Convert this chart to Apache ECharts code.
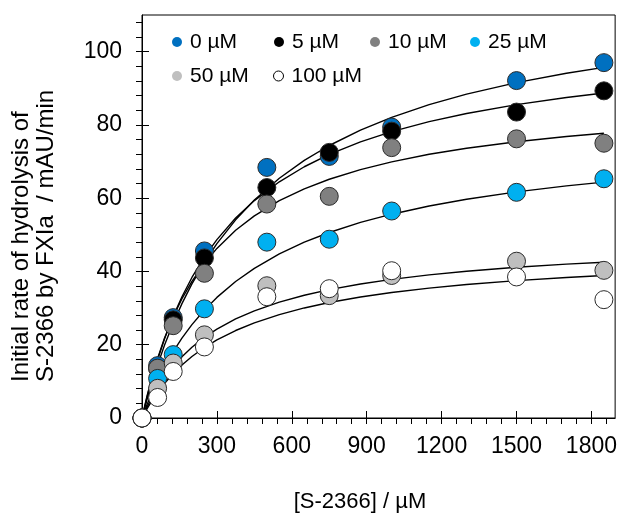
<!DOCTYPE html>
<html>
<head>
<meta charset="utf-8">
<script src="https://cdn.jsdelivr.net/npm/echarts@6/dist/echarts.min.js"></script>
<style>
  html, body { margin: 0; padding: 0; background: #fff; }
  #chart { width: 620px; height: 515px; }
</style>
</head>
<body>
<div id="chart"></div>
<script>
// measured points: [S-2366] in µM
const conc = [0, 62.5, 125, 250, 500, 750, 1000, 1500, 1850];
const rate0 = [0, 14.3, 27.4, 45.6, 68.4, 71.4, 79.4, 92.1, 97];
const rate5 = [0, 13.5, 26.8, 43.7, 62.9, 72.5, 78.3, 83.5, 89.3];
const rate10 = [0, 13.6, 25.2, 39.5, 58.4, 60.5, 73.8, 76.2, 75];
const rate25 = [0, 10.8, 17.3, 29.8, 48, 48.8, 56.5, 61.6, 65.3];
const rate50 = [0, 8.1, 15, 22.7, 36.1, 33.4, 38.9, 42.8, 40.3];
const rate100 = [0, 5.6, 12.7, 19.4, 33.1, 35.3, 40.2, 38.5, 32.3];

// fitted curves at these x positions
const fitX = [0, 20, 40, 60, 90, 125, 160, 200, 250, 300, 375, 450, 550, 650, 750, 875, 1000, 1150, 1300, 1500, 1700, 1850];
const fit0 = [0, 5.06, 9.71, 14.0, 19.83, 25.87, 31.21, 36.62, 42.5, 47.6, 54.09, 59.5, 65.45, 70.32, 74.38, 78.58, 82.07, 85.53, 88.4, 91.54, 94.09, 95.72];
const fit5 = [0, 5.7, 10.82, 15.44, 21.58, 27.76, 33.1, 38.36, 43.96, 48.69, 54.57, 59.34, 64.47, 68.58, 71.93, 75.36, 78.15, 80.88, 83.12, 85.54, 87.49, 88.72];
const fit10 = [0, 5.97, 11.19, 15.79, 21.77, 27.62, 32.55, 37.29, 42.22, 46.29, 51.24, 55.17, 59.31, 62.55, 65.17, 67.8, 69.92, 71.98, 73.64, 75.42, 76.84, 77.73];
const fit25 = [0, 3.59, 6.87, 9.88, 13.94, 18.12, 21.79, 25.48, 29.48, 32.92, 37.26, 40.86, 44.79, 47.99, 50.64, 53.38, 55.63, 57.87, 59.71, 61.72, 63.35, 64.38];
const fit50 = [0, 2.96, 5.6, 7.95, 11.04, 14.12, 16.74, 19.3, 22.0, 24.25, 27.03, 29.26, 31.63, 33.51, 35.04, 36.59, 37.84, 39.07, 40.06, 41.13, 41.99, 42.53];
const fit100 = [0, 2.49, 4.72, 6.74, 9.43, 12.13, 14.47, 16.78, 19.23, 21.3, 23.88, 25.98, 28.23, 30.04, 31.51, 33.02, 34.25, 35.45, 36.43, 37.5, 38.36, 38.9];

const groups = ['0 µM', '5 µM', '10 µM', '25 µM', '50 µM', '100 µM'];
const colors = ['#0070c0', '#000000', '#808080', '#00b0f0', '#bfbfbf', '#ffffff'];
const rates = [rate0, rate5, rate10, rate25, rate50, rate100];
const fits = [fit0, fit5, fit10, fit25, fit50, fit100];

const xTicks = [0, 300, 600, 900, 1200, 1500, 1800];
const yTicks = [0, 20, 40, 60, 80, 100];
const xMinor = [];
for (let v = 0; v <= 1860; v += 60) xMinor.push(v);
const yMinor = [];
for (let v = 0; v <= 108; v += 4) yMinor.push(v);

const font = 'Liberation Sans, Arial, sans-serif';
const pair = (xs, ys) => xs.map((x, i) => [x, ys[i]]);

const chart = echarts.init(document.getElementById('chart'));

const series = [];
fits.forEach((f, i) => {
  series.push({
    name: 'fit ' + groups[i],
    type: 'line',
    data: pair(fitX, f),
    smooth: false,
    showSymbol: false,
    silent: true,
    lineStyle: { color: '#000', width: 1.4, join: 'round' },
    z: 1
  });
});
rates.forEach((r, i) => {
  series.push({
    name: groups[i],
    type: 'scatter',
    data: pair(conc, r),
    symbolSize: 18,
    clip: false,
    itemStyle: { color: colors[i], borderColor: '#2b2b2b', borderWidth: 1, opacity: 1 },
    z: 3
  });
});

// legend rows placed item by item
const legendPos = [[172, 31], [274, 31], [370, 31], [470, 31], [172, 65], [273, 65]];
const legends = groups.map((g, i) => ({
  data: [{ name: g, itemStyle: { borderWidth: i === 5 ? 1 : 0, borderColor: '#000' } }],
  left: legendPos[i][0],
  top: legendPos[i][1],
  icon: 'circle',
  itemWidth: 10,
  itemHeight: 10,
  padding: 0,
  selectedMode: false,
  textStyle: { fontSize: 21, fontFamily: font, color: '#000', padding: [0, 0, 0, 3], lineHeight: 22 }
}));

chart.setOption({
  animation: false,
  backgroundColor: '#fff',
  grid: { left: 142, right: 4, top: 15, bottom: 97, show: true, borderColor: '#000', borderWidth: 1 },
  legend: legends,
  xAxis: [
    {
      type: 'value', min: 0, max: 1895,
      axisLine: { lineStyle: { color: '#000', width: 1 } },
      axisTick: { inside: true, length: 7, customValues: xTicks, lineStyle: { color: '#000' } },
      axisLabel: { customValues: xTicks, formatter: v => String(v), fontSize: 23, fontFamily: font, color: '#000', margin: 17 },
      splitLine: { show: false }
    },
    {
      type: 'value', min: 0, max: 1895, position: 'bottom',
      axisLine: { show: false },
      axisTick: { length: 6, customValues: xMinor, lineStyle: { color: '#000' } },
      axisLabel: { show: false },
      splitLine: { show: false }
    }
  ],
  yAxis: [
    {
      type: 'value', min: 0, max: 110,
      axisLine: { show: true, lineStyle: { color: '#000', width: 1 } },
      axisTick: { show: true, inside: true, length: 7, customValues: yTicks, lineStyle: { color: '#000' } },
      axisLabel: { customValues: yTicks, formatter: v => String(v), fontSize: 23, fontFamily: font, color: '#000', margin: 20 },
      splitLine: { show: false }
    },
    {
      type: 'value', min: 0, max: 110, position: 'left',
      axisLine: { show: false },
      axisTick: { show: true, length: 6, customValues: yMinor, lineStyle: { color: '#000' } },
      axisLabel: { show: false },
      splitLine: { show: false }
    }
  ],
  graphic: [
    {
      type: 'text', x: 9, y: 382, rotation: Math.PI / 2,
      style: {
        text: 'Initial rate of hydrolysis of\nS-2366 by FXIa  / mAU/min',
        font: '24px ' + font, fill: '#000', align: 'left', verticalAlign: 'top', lineHeight: 25
      }
    },
    {
      type: 'text', x: 360, y: 502,
      style: { text: '[S-2366] / µM', font: '22px ' + font, fill: '#000', align: 'center', verticalAlign: 'middle' }
    }
  ],
  series: series
});
</script>
</body>
</html>
